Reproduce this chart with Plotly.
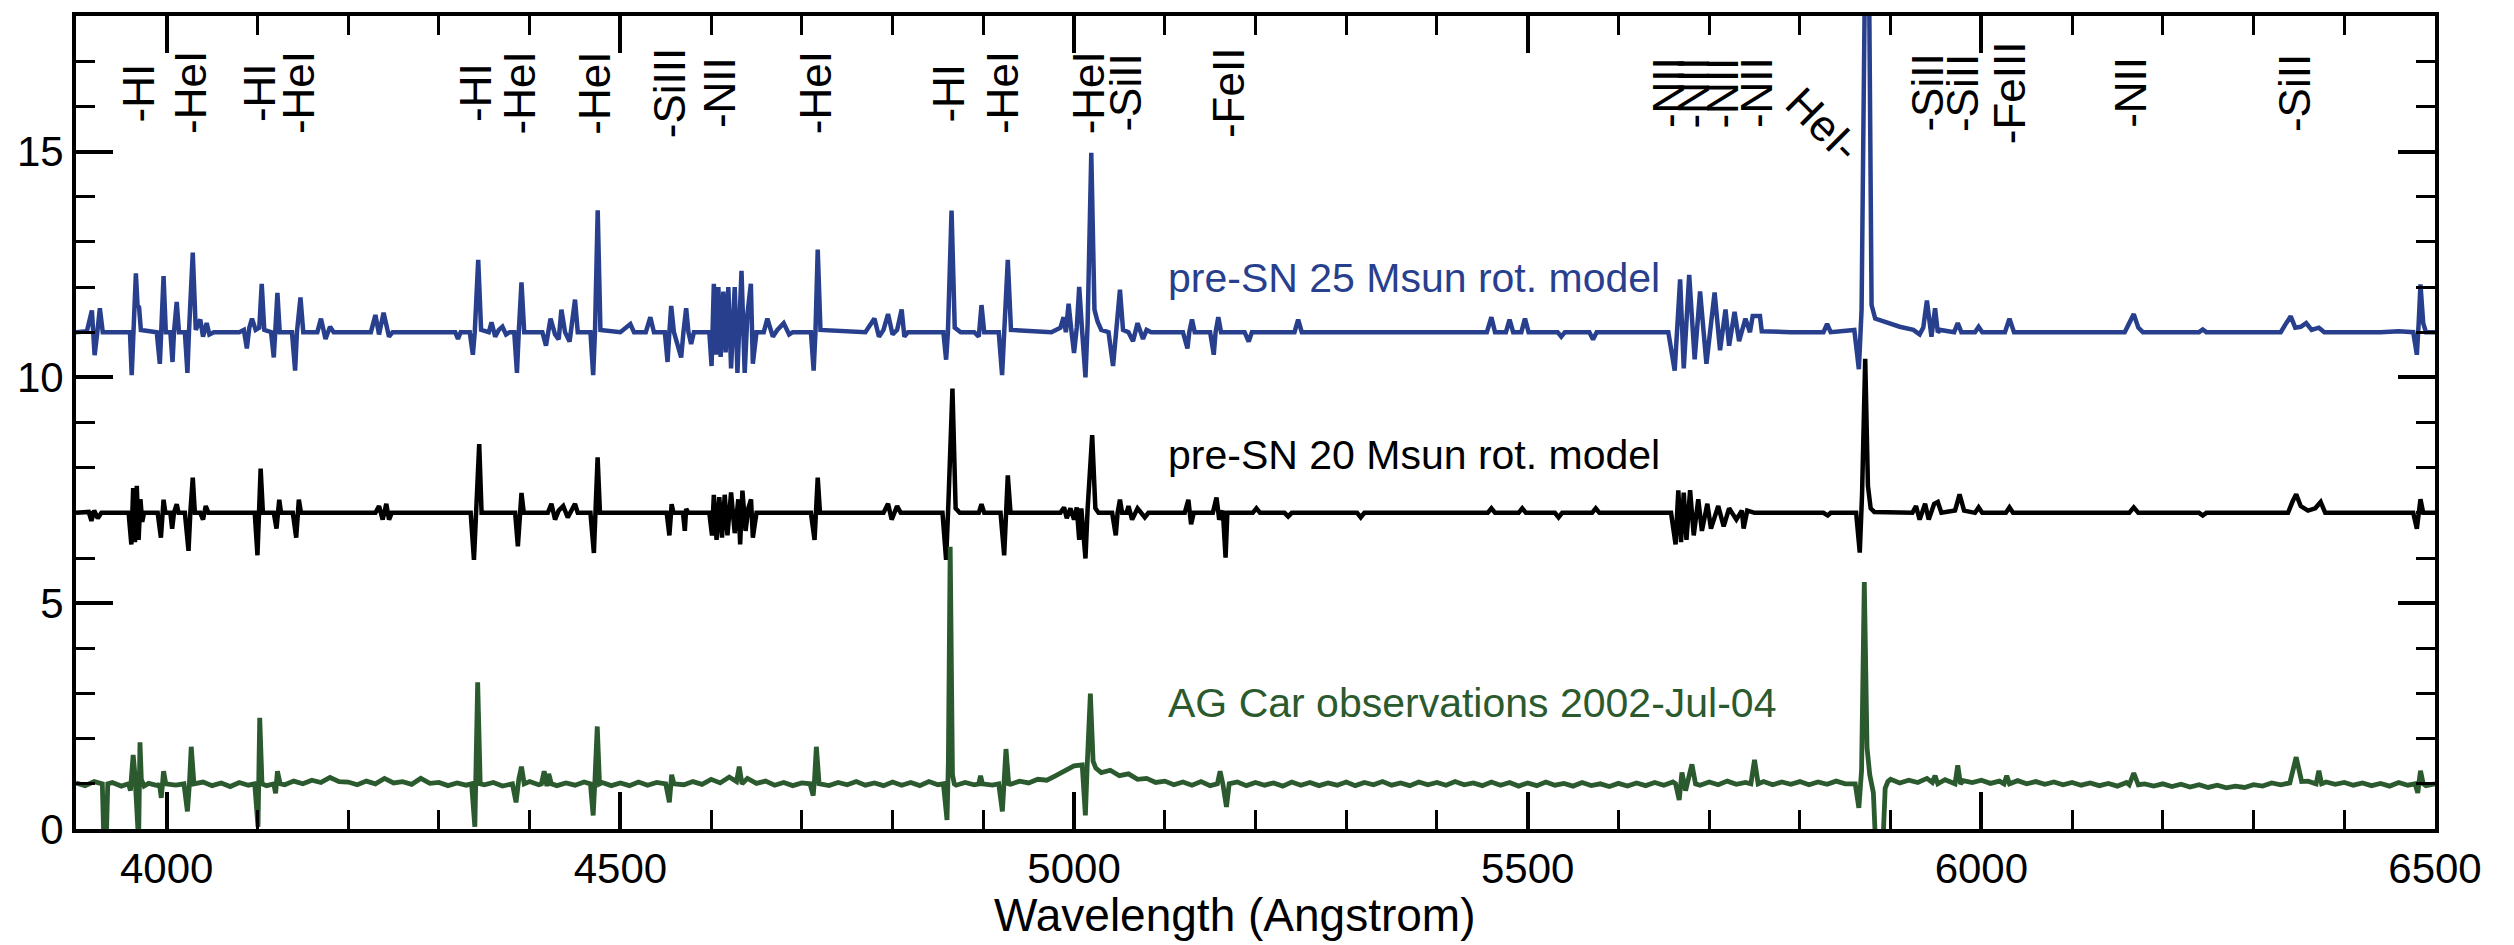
import plotly.graph_objects as go

# ---------------- data ----------------
# pre-SN 25 Msun rotating model (offset +10), (wavelength, flux)
blue_spec = [
    (3900, 11.0), (3912, 11.02), (3917.5, 11.48), (3920.5, 10.49), (3923.5, 11.0), (3926.3, 11.53), (3929.5, 11.0),
    (3945, 11.0), (3959.5, 11.0), (3961.4, 10.05), (3963.2, 11.0), (3966, 12.3), (3967.8, 11.6), (3969.5, 11.55), (3971.5, 11.05),
    (3989, 11.0), (3992.4, 10.3), (3994, 11.0), (3996.5, 12.24), (3999, 11.0),
    (4004, 11.0), (4006.4, 10.34), (4008, 11.0), (4011, 11.67), (4013.5, 11.0),
    (4020, 11.0), (4022.8, 10.1), (4024.5, 11.0), (4028.7, 12.76), (4032, 11.05),
    (4037, 11.28), (4040, 10.9), (4044, 11.2), (4047, 10.95), (4052, 11.0),
    (4080, 11.0), (4085, 11.05), (4088.3, 10.64), (4091, 11.1), (4094, 11.3), (4098, 11.05), (4102, 11.1), (4104.7, 12.07), (4107.5, 11.05),
    (4115, 11.0), (4118, 10.44), (4120, 11.0), (4122, 11.87), (4124.5, 11.0),
    (4138, 11.0), (4141.5, 10.15), (4143.5, 11.0), (4147.4, 11.77), (4150.5, 11.0),
    (4166, 11.0), (4170, 11.3), (4175, 10.85), (4180, 11.12), (4184, 11.0),
    (4225, 11.0), (4230, 11.38), (4234, 10.95), (4239, 11.43), (4245, 10.9), (4249, 11.0),
    (4318, 11.0), (4321, 10.85), (4324, 11.0),
    (4334, 11.0), (4337.4, 10.5), (4339.5, 11.0), (4343.3, 12.6), (4346.5, 11.05),
    (4355, 11.0), (4358, 11.22), (4362, 10.9), (4366, 11.05), (4370, 11.12), (4374, 10.95), (4378, 11.0),
    (4383, 11.0), (4386, 10.1), (4388, 11.0), (4391, 12.1), (4394, 11.0),
    (4414, 11.0), (4418, 10.7), (4423, 11.3), (4428, 10.95), (4432, 10.84), (4435, 11.5), (4439, 11.0), (4444, 10.79), (4450, 11.72), (4453, 11.0),
    (4467, 11.0), (4470, 10.05), (4472, 11.0), (4475, 13.7), (4478, 11.05),
    (4500, 11.0), (4511, 11.18), (4515, 11.0), (4528, 11.0), (4533, 11.33), (4537, 11.0),
    (4549, 11.0), (4552, 10.34), (4554, 11.0), (4556, 11.58), (4559, 11.0), (4567, 10.44), (4569.5, 11.0), (4572.5, 11.53), (4575, 11.0), (4578, 10.74), (4581, 11.0),
    (4598, 11.0), (4600.5, 10.25), (4603, 12.07), (4605.5, 10.5), (4608, 12.0), (4610.5, 10.45), (4613.5, 11.9), (4616, 10.55), (4619, 12.0), (4622, 10.2),
    (4626, 12.0), (4629, 10.1), (4633.5, 12.36), (4637, 10.1), (4640, 11.4), (4643.8, 12.07), (4646, 10.3), (4650, 11.0),
    (4658, 11.0), (4662, 11.3), (4668, 10.9), (4673, 11.05), (4680, 11.2), (4686, 10.95), (4690, 11.0),
    (4710, 11.0), (4713, 10.15), (4715, 11.0), (4717.5, 12.83), (4720.5, 11.05),
    (4770, 11.0), (4780, 11.3), (4785, 10.9), (4790, 11.05), (4795, 11.4), (4800, 10.95), (4805, 11.05), (4810, 11.5), (4813, 10.9), (4817, 11.0),
    (4840, 11.0), (4856, 11.0), (4859, 10.39), (4861, 11.0), (4865, 13.69), (4868.5, 11.1), (4875, 11.0),
    (4890, 11.0), (4895, 10.9), (4898, 11.6), (4901, 11.0),
    (4917, 11.0), (4920.7, 10.05), (4923, 11.0), (4927, 12.6), (4930.5, 11.05),
    (4975, 11.0), (4985, 11.1), (4988.5, 11.33), (4991, 11.0), (4994, 11.63), (4997, 11.05), (5000, 10.54), (5003, 11.1), (5005.7, 12.0), (5009, 11.0),
    (5012.6, 10.0), (5015, 11.2), (5019, 14.97), (5022.5, 11.5), (5026, 11.23), (5030, 11.05),
    (5038, 11.0), (5043, 10.25), (5046, 11.0), (5050.6, 11.94), (5054, 11.05),
    (5060, 11.0), (5065, 10.8), (5070, 11.2), (5076, 10.85), (5080, 11.05), (5085, 11.0),
    (5120, 11.0), (5125, 10.64), (5127, 11.0), (5130, 11.28), (5133, 11.0),
    (5150, 11.0), (5154, 10.5), (5156, 11.0), (5159, 11.33), (5162, 11.0),
    (5188, 11.0), (5192.5, 10.79), (5196, 11.0),
    (5243, 11.0), (5247, 11.28), (5251, 11.0),
    (5300, 11.0), (5400, 11.0), (5455, 11.0), (5460, 11.33), (5464, 11.0), (5476, 11.0), (5480, 11.28), (5484, 11.0), (5493, 11.0), (5497, 11.3), (5501, 11.0),
    (5533, 11.0), (5537, 10.9), (5541, 11.0), (5568, 11.0), (5572, 10.84), (5576, 11.0),
    (5620, 11.0), (5655, 11.0), (5662, 10.15), (5668, 12.17), (5672, 10.2), (5678, 12.27), (5684, 10.4), (5690, 11.9), (5697, 10.3), (5706, 11.88),
    (5712, 10.6), (5718, 11.5), (5722, 10.7), (5728, 11.45), (5733, 10.8), (5740, 11.3), (5745, 11.0), (5748, 11.36), (5756, 11.36), (5758, 11.02),
    (5790, 11.0), (5826, 11.0), (5830, 11.18), (5834, 11.0),
    (5860, 11.05), (5865, 10.18), (5868, 11.5), (5872, 19.5), (5876, 19.5), (5879, 11.6), (5883, 11.3), (5895, 11.22), (5910, 11.12), (5925, 11.05),
    (5932, 10.95), (5936, 11.1), (5940, 11.7), (5945, 10.9), (5949, 11.53), (5952, 11.0), (5955, 11.05),
    (5970, 11.0), (5974, 11.2), (5978, 11.0), (5993, 11.0), (5997, 11.12), (6001, 11.0),
    (6026, 11.0), (6031, 11.3), (6036, 11.0),
    (6100, 11.0), (6158, 11.0), (6163, 11.2), (6168, 11.4), (6173, 11.1), (6178, 11.0),
    (6240, 11.0), (6244, 11.06), (6248, 11.0),
    (6330, 11.0), (6336, 11.2), (6341, 11.35), (6346, 11.1), (6352, 11.12), (6358, 11.2), (6364, 11.05), (6372, 11.1), (6378, 11.0),
    (6440, 11.0), (6460, 11.02), (6476, 11.0), (6480, 10.5), (6482, 11.2), (6484, 12.06), (6487, 11.2), (6490, 11.0), (6500, 11.0),
]

# pre-SN 20 Msun rotating model (offset +6)
black_spec = [
    (3900, 7.0), (3914, 7.02), (3917, 6.82), (3920, 7.05), (3924, 6.88), (3928, 7.0),
    (3958, 7.0), (3961, 6.3), (3963, 7.55), (3965, 6.35), (3967, 7.6), (3969, 6.4), (3971, 7.3), (3973, 6.8), (3975, 7.0),
    (3990, 7.0), (3993.6, 6.45), (3995, 7.0), (3996.5, 7.29), (3998.5, 7.0),
    (4004, 7.0), (4006, 6.65), (4008, 7.0), (4011, 7.19), (4013, 7.0),
    (4020, 7.0), (4024, 6.16), (4026, 7.0), (4028.7, 7.78), (4031, 7.0),
    (4037, 7.0), (4040, 6.85), (4043, 7.15), (4046, 7.0),
    (4097, 7.0), (4100, 6.06), (4101.5, 7.0), (4103.5, 7.98), (4106, 7.0),
    (4118, 7.0), (4121, 6.65), (4122.5, 7.0), (4124, 7.29), (4126, 7.0),
    (4139, 7.0), (4142.7, 6.45), (4144, 7.0), (4145.6, 7.29), (4148, 7.0),
    (4230, 7.0), (4234, 7.15), (4238, 6.85), (4242, 7.2), (4245, 6.85), (4248, 7.0),
    (4335, 7.0), (4338.6, 5.96), (4340.5, 7.0), (4344.4, 8.52), (4347, 7.0),
    (4384, 7.0), (4387, 6.26), (4389, 7.0), (4391, 7.44), (4393.5, 7.0),
    (4420, 7.0), (4424, 7.2), (4428, 6.85), (4432, 7.05), (4437, 7.15), (4442, 6.9), (4446, 7.05), (4450, 7.2), (4453, 7.0),
    (4467, 7.0), (4470.8, 6.11), (4472.5, 7.0), (4474.9, 8.23), (4477.5, 7.0),
    (4551, 7.0), (4554, 6.5), (4555, 7.0), (4556.5, 7.19), (4558.5, 7.0),
    (4569, 7.0), (4571, 6.6), (4572.5, 7.09), (4575, 7.0),
    (4598, 7.0), (4601, 6.5), (4603, 7.4), (4606, 6.4), (4609, 7.35), (4612, 6.45), (4615, 7.4), (4618, 6.5), (4622, 7.45), (4626, 6.55),
    (4630, 7.3), (4632, 6.3), (4634.5, 7.49), (4638, 6.6), (4641, 7.1), (4644, 7.3), (4646, 6.45), (4650, 7.0),
    (4710, 7.0), (4714, 6.4), (4715.5, 7.0), (4717.5, 7.78), (4720, 7.0),
    (4790, 7.0), (4795, 7.2), (4799, 6.85), (4805, 7.15), (4809, 7.0),
    (4855, 7.0), (4859, 5.96), (4861.5, 7.2), (4866, 9.75), (4869.5, 7.1), (4874, 7.0),
    (4895, 7.0), (4898, 7.19), (4901, 7.0),
    (4919, 7.0), (4923, 6.06), (4924.5, 7.0), (4927, 7.83), (4930, 7.0),
    (4985, 7.0), (4989, 7.12), (4992, 6.88), (4996, 7.1), (5000, 6.85), (5003, 7.12), (5005.7, 6.4), (5008, 7.1), (5012.6, 5.99), (5015, 7.1),
    (5020, 8.72), (5023.5, 7.1), (5027, 7.0),
    (5042, 7.0), (5046, 6.5), (5048, 7.0), (5050.6, 7.29), (5053, 7.0),
    (5058, 7.0), (5060, 7.15), (5064, 6.85), (5070, 7.1), (5078, 6.9), (5082, 7.0),
    (5122, 7.0), (5126, 7.29), (5129, 6.75), (5132, 7.0),
    (5153, 7.0), (5157, 7.34), (5160, 6.85), (5164, 7.05), (5167, 6.01), (5169, 7.0),
    (5197, 7.0), (5201, 7.1), (5205, 7.0),
    (5232, 7.0), (5236, 6.92), (5240, 7.0),
    (5312, 7.0), (5316, 6.9), (5320, 7.0),
    (5456, 7.0), (5460, 7.1), (5464, 7.0), (5490, 7.0), (5494, 7.1), (5498, 7.0),
    (5530, 7.0), (5534, 6.9), (5538, 7.0), (5571, 7.0), (5575, 7.1), (5579, 7.0),
    (5658, 7.0), (5663, 6.3), (5666, 7.5), (5669, 6.35), (5672, 7.45), (5675, 6.4), (5679, 7.5), (5683, 6.5), (5688, 7.3), (5692, 6.6),
    (5698, 7.2), (5702, 6.65), (5710, 7.15), (5716, 6.7), (5722, 7.1), (5730, 6.85), (5736, 7.05), (5738, 6.65), (5742, 7.05), (5750, 7.0),
    (5826, 7.0), (5830.7, 6.94), (5834, 7.0),
    (5862, 7.0), (5866, 6.12), (5868.5, 7.4), (5872, 10.41), (5875, 7.6), (5878, 7.1), (5882, 7.02),
    (5924, 7.0), (5928, 7.15), (5932, 6.85), (5938, 7.2), (5942, 6.85), (5948, 7.2), (5952, 7.24), (5956, 7.0),
    (5971, 7.05), (5976, 7.41), (5981, 7.05),
    (5993, 7.0), (5997, 7.12), (6001, 7.0), (6027, 7.0), (6031, 7.12), (6035, 7.0),
    (6163, 7.0), (6168, 7.12), (6173, 7.0), (6240, 7.0), (6244, 6.94), (6248, 7.0),
    (6338, 7.0), (6343, 7.25), (6347, 7.41), (6352, 7.15), (6360, 7.05), (6368, 7.1), (6374, 7.24), (6379, 7.0),
    (6476, 7.0), (6480, 6.65), (6482, 7.0), (6484, 7.3), (6487, 7.0), (6500, 7.0),
]

# AG Car observations: continuum samples every 10 A from 3900 A
green_cont_start = 3900
green_cont_step = 10
green_cont = [
    1.02, 0.96, 1.05, 0.97, 1.03, 0.95, 1.04, 0.98, 1.01, 0.96,
    1.03, 0.97, 1.00, 0.95, 1.04, 0.96, 1.02, 0.94, 1.03, 0.97,
    1.02, 0.96, 1.05, 0.98, 1.06, 1.00, 1.08, 1.03, 1.14, 1.05,
    1.04, 0.98, 1.06, 1.00, 1.12, 1.02, 1.05, 0.99, 1.12, 1.01,
    1.03, 0.96, 1.02, 0.97, 1.05, 0.98, 1.03, 0.95, 1.04, 0.97,
    1.05, 0.98, 1.03, 0.96, 1.02, 0.97, 1.04, 0.95, 1.03, 0.96,
    1.02, 0.96, 1.04, 0.97, 1.03, 0.95, 1.06, 0.98, 1.05, 0.99,
    1.10, 1.02, 1.15, 1.04, 1.12, 1.01, 1.06, 0.97, 1.03, 0.96,
    1.02, 0.97, 1.04, 0.96, 1.03, 0.98, 1.05, 0.97, 1.02, 0.96,
    1.04, 0.97, 1.03, 0.96, 1.05, 0.98, 1.04, 0.97, 1.03, 0.98,
    1.04, 0.97, 1.05, 0.99, 1.06, 1.02, 1.10, 1.08, 1.18, 1.30,
    1.40, 1.45, 1.35, 1.25, 1.30, 1.18, 1.22, 1.10, 1.12, 1.03,
    1.06, 0.98, 1.04, 0.97, 1.05, 0.96, 1.03, 0.98, 1.04, 0.96,
    1.03, 0.97, 1.02, 0.95, 1.04, 0.97, 1.03, 0.96, 1.02, 0.97,
    1.04, 0.96, 1.03, 0.98, 1.05, 0.97, 1.02, 0.96, 1.04, 0.98,
    1.03, 0.97, 1.05, 0.98, 1.02, 0.96, 1.04, 0.97, 1.03, 0.95,
    1.02, 0.96, 1.04, 0.97, 1.01, 0.95, 1.03, 0.96, 1.00, 0.94,
    1.01, 0.95, 1.02, 0.96, 1.03, 0.97, 1.04, 0.98, 1.05, 0.97,
    1.04, 0.98, 1.06, 0.99, 1.03, 0.97, 1.05, 0.98, 1.04, 0.99,
    1.05, 0.98, 1.04, 0.99, 1.06, 1.00, 1.05, 1.02, 1.08, 1.03,
    1.10, 1.02, 1.08, 1.03, 1.12, 1.04, 1.09, 1.02, 1.07, 1.03,
    1.08, 1.01, 1.06, 1.02, 1.07, 1.00, 1.05, 0.99, 1.04, 0.98,
    1.03, 0.97, 1.02, 0.96, 1.01, 0.95, 1.03, 0.97, 1.00, 0.95,
    1.00, 0.94, 0.99, 0.93, 0.98, 0.92, 0.97, 0.91, 0.95, 0.92,
    0.98, 0.95, 1.02, 0.98, 1.05, 1.00, 1.06, 1.01, 1.04, 0.99,
    1.03, 0.97, 1.02, 0.96, 1.01, 0.95, 1.03, 0.97, 1.02, 0.96,
    1.00,
]
# AG Car line profiles (wavelength, flux)
green_lines = [
    [(3929, 1.0), (3931, -0.5), (3933, -0.5), (3935, 1.0)],
    [(3958, 1.0), (3960, 0.85), (3963, 1.64), (3965, 1.2), (3967.5, -0.3), (3969, -0.3), (3970.5, 1.92), (3972, 1.1), (3975, 0.95)],
    [(3992, 1.0), (3994, 0.69), (3996.5, 1.28), (3999, 1.0)],
    [(4019, 1.0), (4022.8, 0.39), (4025, 1.0), (4027, 1.82), (4030, 1.0)],
    [(4097, 1.0), (4100.6, 0.05), (4101.5, 1.2), (4102.5, 2.46), (4105, 1.0)],
    [(4118, 1.0), (4120, 0.79), (4122, 1.28), (4125, 1.0)],
    [(4336, 1.0), (4339.6, 0.05), (4341, 1.3), (4342.7, 3.25), (4345.5, 1.0)],
    [(4381, 1.0), (4385, 0.59), (4388, 1.1), (4391, 1.38), (4394, 1.0)],
    [(4413, 1.0), (4416, 1.28), (4419, 0.95), (4421, 1.22), (4424, 1.0)],
    [(4467, 1.0), (4470, 0.3), (4472, 1.1), (4474.5, 2.27), (4477, 1.0)],
    [(4550, 1.0), (4554, 0.59), (4556.5, 1.2), (4559, 1.0)],
    [(4628, 1.05), (4631, 1.38), (4634, 1.0)],
    [(4709, 1.0), (4712.5, 0.74), (4714, 1.1), (4716, 1.82), (4719, 1.0)],
    [(4856, 1.0), (4860, 0.2), (4861.5, 1.5), (4863.5, 6.25), (4866, 1.2), (4868, 1.0)],
    [(4895, 1.0), (4897, 1.18), (4899, 1.0)],
    [(4917, 1.0), (4921, 0.39), (4922.5, 1.1), (4925, 1.77), (4928, 1.0)],
    [(5009, 1.42), (5012.5, 0.3), (5014.5, 1.4), (5018, 3.0), (5021, 1.5), (5024, 1.35)],
    [(5158, 1.0), (5161, 1.28), (5164, 1.0), (5168, 0.49), (5171, 1.0)],
    [(5663, 1.0), (5667, 0.64), (5670, 1.25), (5674, 0.85), (5681, 1.43), (5685, 1.0)],
    [(5746, 1.0), (5750, 1.53), (5754, 1.0)],
    [(5861, 1.0), (5865, 0.47), (5868, 1.3), (5871, 5.47), (5874, 1.8), (5877, 1.2), (5881, 0.8), (5884, -0.6), (5891, -0.6), (5894, 0.9), (5897, 1.05)],
    [(5946, 1.03), (5949, 1.18), (5952, 1.0)],
    [(5971, 1.0), (5974, 1.41), (5977, 1.0)],
    [(6025, 1.0), (6028, 1.18), (6031, 1.0)],
    [(6163, 0.98), (6168, 1.24), (6173, 0.98)],
    [(6340, 1.02), (6347, 1.59), (6353, 1.05)],
    [(6369, 1.0), (6372, 1.29), (6375, 1.0)],
    [(6478, 1.0), (6481, 0.8), (6484, 1.29), (6487, 1.0)],
]

# line identifications
line_label_wl = [3969, 4027, 4102, 4145, 4341, 4389, 4472, 4554, 4609, 4715,
                 4862, 4922, 5016, 5057, 5170, 5655, 5683, 5715, 5752,
                 5941, 5979, 6031, 6165, 6346]
line_label_text = ["-HI", "-HeI", "-HI", "-HeI", "-HI", "-HeI", "-HeI", "-SiIII", "-NII", "-HeI",
                   "-HI", "-HeI", "-HeI", "-SiII", "-FeII", "-NII", "-NII", "-NII", "-NII",
                   "-SiII", "-SiII", "-FeIII", "-NII", "-SiII"]
tilted_label = ("HeI-", 5826, 15.6)

series_names = ["pre-SN 25 Msun rot. model", "pre-SN 20 Msun rot. model", "AG Car observations 2002-Jul-04"]
series_label_y = [12.2, 8.28, 2.8]
series_label_x = 5101

x_range = [3900, 6500]
y_range = [0, 18]

# ---------------- build ----------------
BLUE = "#283f8e"
BLACK = "#000000"
GREEN = "#2b5a2f"
FONT = "Liberation Sans, Arial, Helvetica, sans-serif"

# merge continuum samples with line profiles (continuum samples inside a profile are dropped)
spans = [(min(p[0] for p in g), max(p[0] for p in g)) for g in green_lines]
green_pts = []
for i, f in enumerate(green_cont):
    wl = green_cont_start + i * green_cont_step
    if any(a - 1 <= wl <= b + 1 for a, b in spans):
        continue
    green_pts.append((wl, f))
for g in green_lines:
    green_pts.extend(g)
green_pts.sort()

fig = go.Figure()
for pts, col, w in [(blue_spec, BLUE, 4.5), (black_spec, BLACK, 4.5), (green_pts, GREEN, 4.8)]:
    fig.add_trace(go.Scatter(
        x=[p[0] for p in pts], y=[p[1] for p in pts], mode="lines",
        line=dict(color=col, width=w), showlegend=False, hoverinfo="skip"))

ann = []
for wl, txt in zip(line_label_wl, line_label_text):
    ann.append(dict(x=wl, y=16.3, xref="x", yref="y", text=txt, showarrow=False,
                    textangle=-90, xanchor="center", yanchor="middle",
                    font=dict(family=FONT, size=44, color="black")))
ann.append(dict(x=tilted_label[1], y=tilted_label[2], xref="x", yref="y", text=tilted_label[0],
                showarrow=False, textangle=45, xanchor="center", yanchor="middle",
                font=dict(family=FONT, size=44, color="black")))
for name, yy, col in zip(series_names, series_label_y, [BLUE, BLACK, GREEN]):
    ann.append(dict(x=series_label_x, y=yy, xref="x", yref="y", text=name, showarrow=False,
                    xanchor="left", yanchor="middle",
                    font=dict(family=FONT, size=41, color=col)))
ann.append(dict(x=0.491, y=-0.106, xref="paper", yref="paper", text="Wavelength (Angstrom)",
                showarrow=False, xanchor="center", yanchor="middle",
                font=dict(family=FONT, size=46, color="black")))

axis_common = dict(showline=True, linecolor="black", linewidth=4, mirror="ticks",
                   ticks="inside", tickcolor="black", tickwidth=3.5, ticklen=37,
                   showgrid=False, zeroline=False,
                   tickfont=dict(family=FONT, size=42, color="black"))

fig.update_xaxes(range=x_range, tickmode="linear", tick0=4000, dtick=500,
                 minor=dict(tickmode="linear", tick0=3900, dtick=100, ticks="inside",
                            ticklen=19, tickwidth=3, tickcolor="black", showgrid=False),
                 **axis_common)
fig.update_yaxes(range=y_range, tickmode="linear", tick0=0, dtick=5,
                 minor=dict(tickmode="linear", tick0=0, dtick=1, ticks="inside",
                            ticklen=19, tickwidth=3, tickcolor="black", showgrid=False),
                 **axis_common)

fig.update_layout(width=2514, height=945, margin=dict(l=76, r=79, t=12, b=116),
                  paper_bgcolor="white", plot_bgcolor="white", showlegend=False,
                  annotations=ann, font=dict(family=FONT, color="black"))

fig.write_html("out.html")
